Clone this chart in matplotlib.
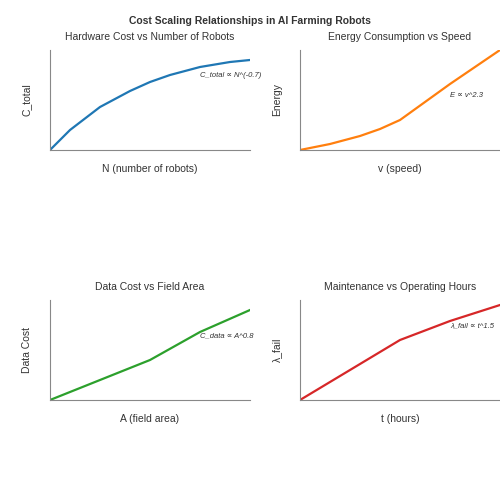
import matplotlib
matplotlib.use("Agg")
import matplotlib.pyplot as plt

plt.rcParams['font.family'] = ['Liberation Sans', 'DejaVu Sans']

# curve samples (normalised axes)
hw_x = [0, 0.1, 0.25, 0.4, 0.5, 0.6, 0.75, 0.9, 1.0]
hw_y = [0, 0.2, 0.43, 0.59, 0.68, 0.75, 0.83, 0.88, 0.9]
en_x = [0, 0.15, 0.3, 0.4, 0.5, 0.75, 1.0]
en_y = [0, 0.06, 0.14, 0.21, 0.3, 0.66, 1.0]
dc_x = [0, 0.5, 0.75, 1.0]
dc_y = [0, 0.4, 0.68, 0.9]
mt_x = [0, 0.5, 0.75, 1.0]
mt_y = [0, 0.6, 0.79, 0.95]

panels = [
    ([0.1, 0.7, 0.4, 0.2], hw_x, hw_y, '#1f77b4', 'Hardware Cost vs Number of Robots',
     'N (number of robots)', 'C_total', 'C_total ∝ N^(-0.7)', (0.75, 0.73)),
    ([0.6, 0.7, 0.4, 0.2], en_x, en_y, '#ff7f0e', 'Energy Consumption vs Speed',
     'v (speed)', 'Energy', 'E ∝ v^2.3', (0.75, 0.53)),
    ([0.1, 0.2, 0.4, 0.2], dc_x, dc_y, '#2ca02c', 'Data Cost vs Field Area',
     'A (field area)', 'Data Cost', 'C_data ∝ A^0.8', (0.75, 0.63)),
    ([0.6, 0.2, 0.4, 0.2], mt_x, mt_y, '#d62728', 'Maintenance vs Operating Hours',
     't (hours)', 'λ_fail', 'λ_fail ∝ t^1.5', (0.75, 0.73)),
]

fig = plt.figure(figsize=(5, 5), dpi=100)
fig.suptitle('Cost Scaling Relationships in AI Farming Robots', y=0.968,
             fontsize=7.5, fontweight='bold', color='#333333')

for rect, x, y, color, title, xl, yl, note, pos in panels:
    ax = fig.add_axes(rect)
    ax.plot(x, y, color=color, linewidth=1.6)
    ax.set_xlim(0, 1)
    ax.set_ylim(0, 1)
    ax.set_xticks([])
    ax.set_yticks([])
    for s in ['top', 'right']:
        ax.spines[s].set_visible(False)
    for s in ['left', 'bottom']:
        ax.spines[s].set_color('#888888')
    ax.set_title(title, fontsize=7.5, color='#333333', pad=7)
    ax.set_xlabel(xl, fontsize=7.5, color='#333333', labelpad=10)
    ax.set_ylabel(yl, fontsize=7.5, color='#333333', labelpad=13)
    ax.text(pos[0], pos[1], note, transform=ax.transAxes, fontsize=5.5,
            style='italic', color='#333333')

fig.savefig('out.png', dpi=100)
